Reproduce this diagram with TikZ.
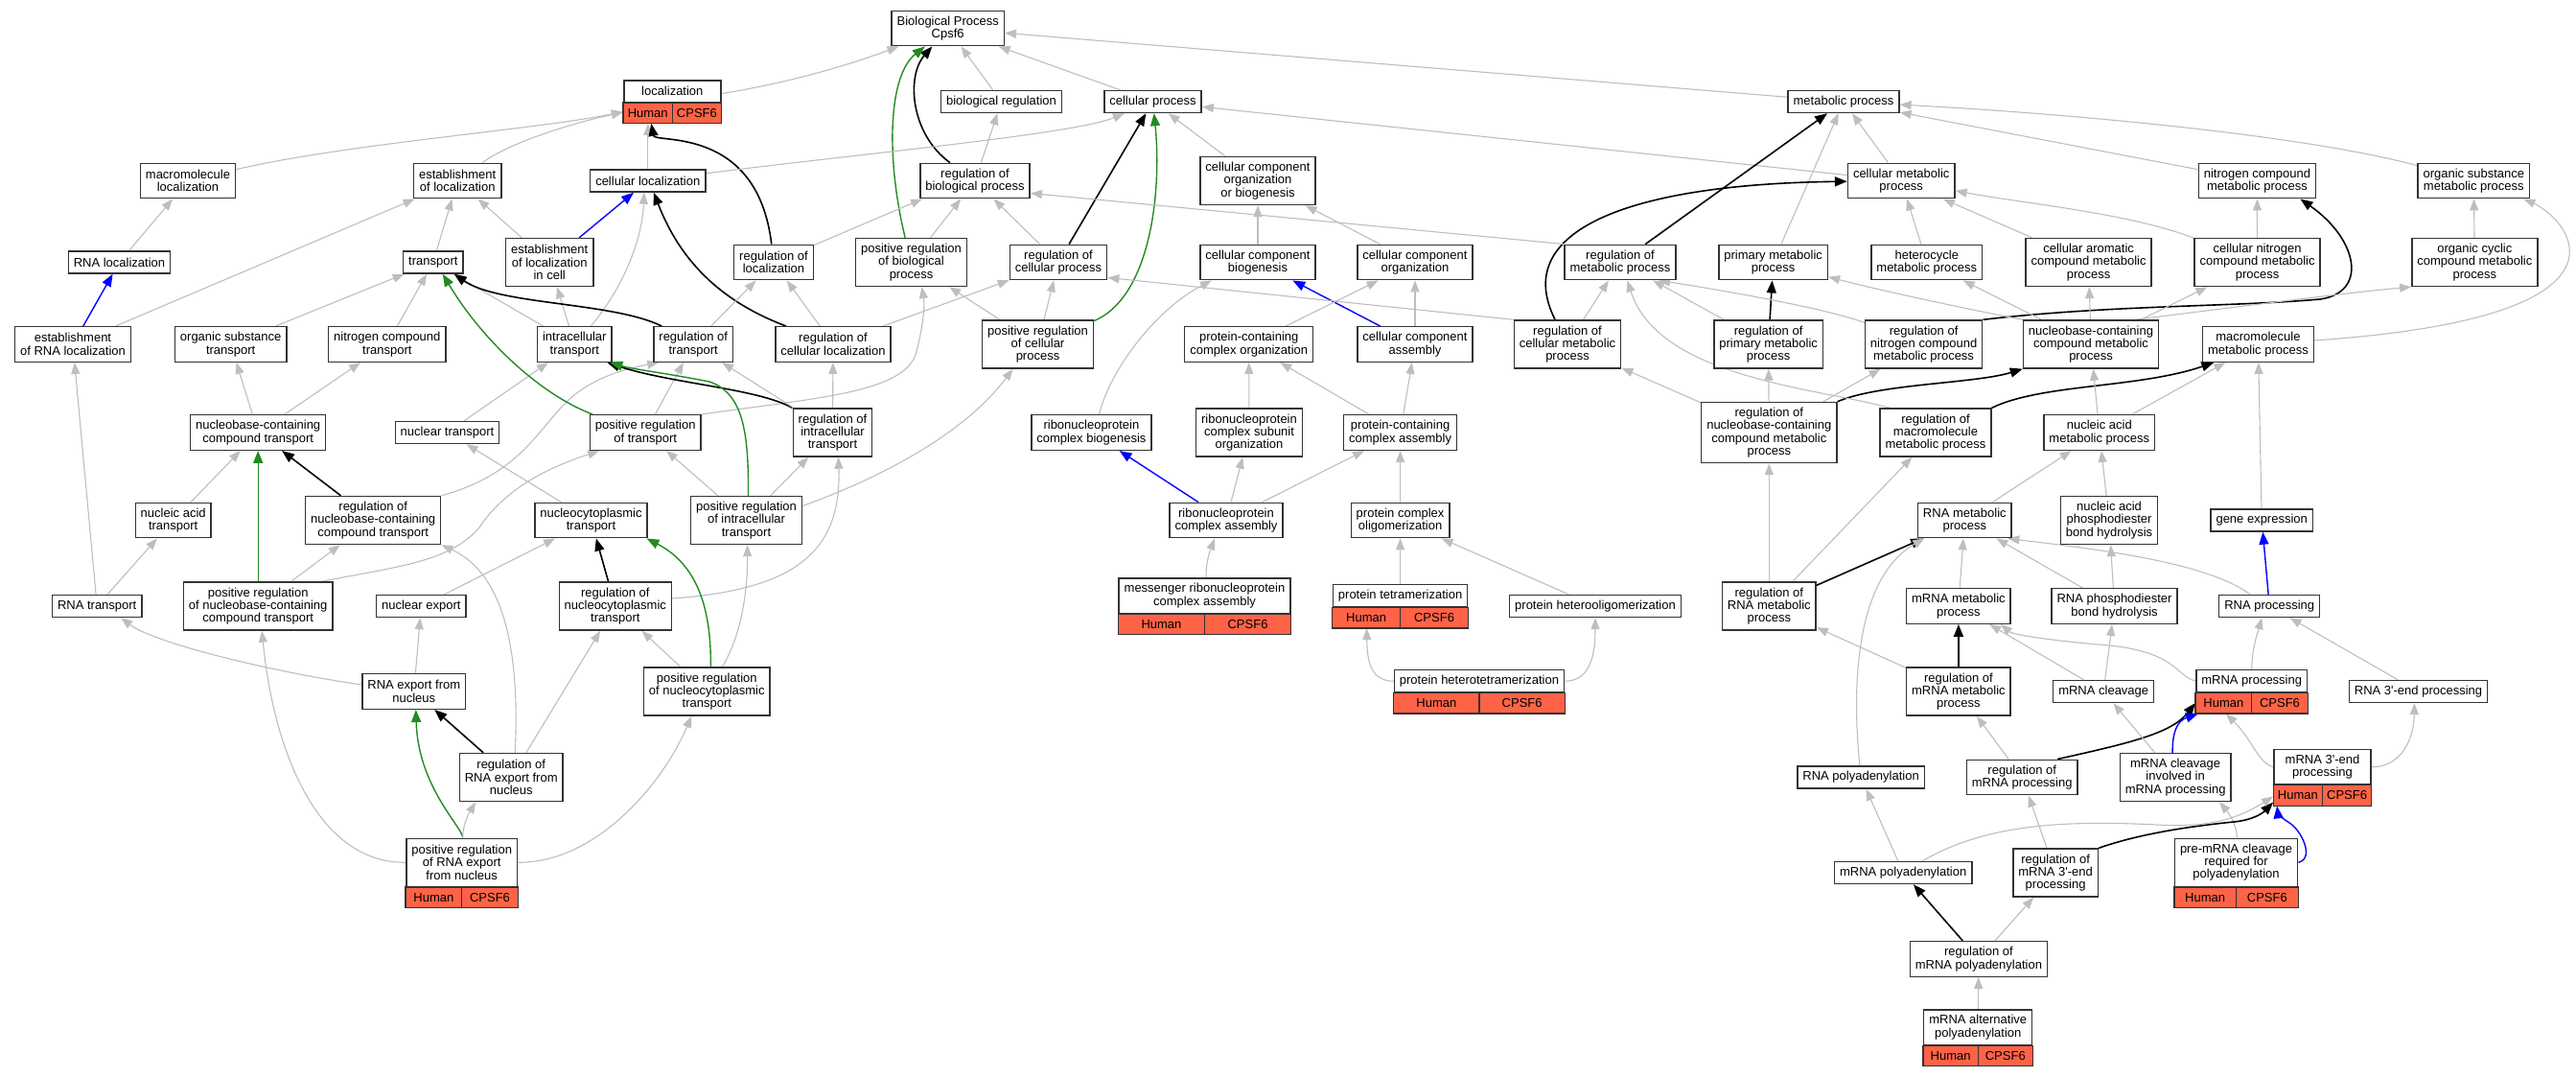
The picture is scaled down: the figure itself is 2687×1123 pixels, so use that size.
\documentclass[tikz,border=0pt]{standalone}
\usepackage{fontspec}
\setmainfont{Liberation Sans}
\usetikzlibrary{arrows.meta,calc,fit}
\definecolor{edgegray}{RGB}{190,190,190}
\definecolor{fgreen}{RGB}{34,139,34}
\definecolor{tomato}{RGB}{255,99,71}
\definecolor{bord}{RGB}{51,51,51}
\newcommand{\gofont}{\fontsize{13}{13.3}\selectfont}
\pgfdeclarelayer{bglayer}
\pgfdeclarelayer{edges}
\pgfsetlayers{bglayer,edges,main}
\tikzset{
  gobox/.style={draw=bord, line width=1.4pt, fill=white, align=center, inner xsep=5.5pt, inner ysep=0pt, font=\gofont},
  l1/.style={gobox, minimum height=23pt},
  l2/.style={gobox, minimum height=36.5pt},
  l3/.style={gobox, minimum height=50pt},
  l4/.style={gobox, minimum height=63pt},
  rowtext/.style={font=\gofont, inner sep=0pt},
  isaedge/.style={draw=edgegray, line width=1.1pt, -{Triangle[length=12pt,width=9pt]}},
  regedge/.style={draw=black, line width=1.6pt, -{Triangle[length=13pt,width=10pt]}},
  posedge/.style={draw=fgreen, line width=1.4pt, -{Triangle[length=13pt,width=10pt]}},
  partedge/.style={draw=blue, line width=1.4pt, -{Triangle[length=13pt,width=10pt]}}
}
\newcommand{\gene}[5]{%
  \node[gobox, minimum width=101pt, minimum height=#4pt] (#1-l) at (#2,#3-10.75) {#5};
  \coordinate (#1-c) at ($(#1-l.south east)+(0,21.5)$);
  \filldraw[draw=bord, line width=1.4pt, fill=tomato] (#1-l.south west) rectangle (#1-c);
  \draw[draw=bord, line width=1.4pt] (#1-l.south) -- ($(#1-l.south)+(0,21.5)$);
  \node[rowtext] at ($(#1-l.south west)!0.25!(#1-l.south east)+(0,10.75)$) {Human};
  \node[rowtext] at ($(#1-l.south west)!0.75!(#1-l.south east)+(0,10.75)$) {CPSF6};
  \node[fit=(#1-l)(#1-c), inner sep=0pt] (#1) {};
}
\begin{document}
\begin{tikzpicture}[x=1pt,y=-1pt]
\begin{pgfonlayer}{bglayer}
\fill[white] (0,0) rectangle (2687,1123);
\end{pgfonlayer}
\useasboundingbox (0,0) rectangle (2687,1123);
% rank 0/1
\node[l2] (bp) at (988.7,29.5) {Biological Process\\Cpsf6};
\gene{loc}{701.3}{106}{22.5}{localization}
\node[l1] (bioreg) at (1044.5,106) {biological regulation};
\node[l1] (cellproc) at (1202.5,106) {cellular process};
\node[l1] (metab) at (1923,106) {metabolic process};
% rank 2
\node[l2] (macroloc) at (196,188.5) {macromolecule\\localization};
\node[l2] (estloc) at (477.2,188.5) {establishment\\of localization};
\node[l1] (cellloc) at (675.8,188.5) {cellular localization};
\node[l2] (regbio) at (1017,188.5) {regulation of\\biological process};
\node[l3] (ccob) at (1312,188.5) {cellular component\\organization\\or biogenesis};
\node[l2] (cellmet) at (1983.2,188.5) {cellular metabolic\\process};
\node[l2] (nitmet) at (2354.4,188.5) {nitrogen compound\\metabolic process};
\node[l2] (orgsubmet) at (2580.3,188.5) {organic substance\\metabolic process};
% rank 3
\node[l1] (rnaloc) at (124.5,273.5) {RNA localization};
\node[l1] (transport) at (451.8,273.5) {transport};
\node[l3] (estlocell) at (573.2,273.5) {establishment\\of localization\\in cell};
\node[l2] (regloc) at (807,273.5) {regulation of\\localization};
\node[l3] (posregbio) at (950.5,273.5) {positive regulation\\of biological\\process};
\node[l2] (regcell) at (1104,273.5) {regulation of\\cellular process};
\node[l2] (ccbio) at (1312,273.5) {cellular component\\biogenesis};
\node[l2] (ccorg) at (1476,273.5) {cellular component\\organization};
\node[l2] (regmet) at (1690,273.5) {regulation of\\metabolic process};
\node[l2] (primet) at (1849.6,273.5) {primary metabolic\\process};
\node[l2] (hetmet) at (2009.8,273.5) {heterocycle\\metabolic process};
\node[l3] (caromet) at (2178.6,273.5) {cellular aromatic\\compound metabolic\\process};
\node[l3] (cnitmet) at (2354.6,273.5) {cellular nitrogen\\compound metabolic\\process};
\node[l3] (orgcycmet) at (2581.3,273.5) {organic cyclic\\compound metabolic\\process};
% rank 4
\node[l2] (estrnaloc) at (76,359) {establishment\\of RNA localization};
\node[l2] (orgsubtr) at (240.7,359) {organic substance\\transport};
\node[l2] (nittr) at (403.8,359) {nitrogen compound\\transport};
\node[l2] (intratr) at (599.3,359) {intracellular\\transport};
\node[l2] (regtr) at (723.2,359) {regulation of\\transport};
\node[l2] (regcellloc) at (869,359) {regulation of\\cellular localization};
\node[l3] (posregcell) at (1082.5,359) {positive regulation\\of cellular\\process};
\node[l2] (pccorg) at (1302.7,359) {protein-containing\\complex organization};
\node[l2] (ccasm) at (1476,359) {cellular component\\assembly};
\node[l3] (regcellmet) at (1635,359) {regulation of\\cellular metabolic\\process};
\node[l3] (regprimet) at (1844.6,359) {regulation of\\primary metabolic\\process};
\node[l3] (regnitmet) at (2006.6,359) {regulation of\\nitrogen compound\\metabolic process};
\node[l3] (nbcmet) at (2181,359) {nucleobase-containing\\compound metabolic\\process};
\node[l2] (macromet) at (2355.4,359) {macromolecule\\metabolic process};
% rank 5
\node[l2] (nbctr) at (269.2,451) {nucleobase-containing\\compound transport};
\node[l1] (nuctr) at (466.5,451) {nuclear transport};
\node[l2] (posregtr) at (673.2,451) {positive regulation\\of transport};
\node[l3] (regintratr) at (868.5,451) {regulation of\\intracellular\\transport};
\node[l2] (rnpbio) at (1138.4,451) {ribonucleoprotein\\complex biogenesis};
\node[l3] (rnpsub) at (1303,451) {ribonucleoprotein\\complex subunit\\organization};
\node[l2] (pcasm) at (1460.6,451) {protein-containing\\complex assembly};
\node[l4] (regnbcmet) at (1845.3,451) {regulation of\\nucleobase-containing\\compound metabolic\\process};
\node[l3] (regmacromet) at (2019,451) {regulation of\\macromolecule\\metabolic process};
\node[l2] (nucacmet) at (2189.8,451) {nucleic acid\\metabolic process};
% rank 6
\node[l2] (nucactr) at (180.7,542.5) {nucleic acid\\transport};
\node[l3] (regnbctr) at (389.2,542.5) {regulation of\\nucleobase-containing\\compound transport};
\node[l2] (nctr) at (616.5,542.5) {nucleocytoplasmic\\transport};
\node[l3] (posregintratr) at (778.5,542.5) {positive regulation\\of intracellular\\transport};
\node[l2] (rnpasm) at (1279,542.5) {ribonucleoprotein\\complex assembly};
\node[l2] (pcolig) at (1460.6,542.5) {protein complex\\oligomerization};
\node[l2] (rnamet) at (2049.3,542.5) {RNA metabolic\\process};
\node[l3] (napdh) at (2200,542.5) {nucleic acid\\phosphodiester\\bond hydrolysis};
\node[l1] (geneexp) at (2359.2,542.5) {gene expression};
% rank 7
\node[l1] (rnatr) at (101.2,632) {RNA transport};
\node[l3] (posregnbctr) at (269.2,632) {positive regulation\\of nucleobase-containing\\compound transport};
\node[l1] (nucexp) at (439.3,632) {nuclear export};
\node[l3] (regnctr) at (641.8,632) {regulation of\\nucleocytoplasmic\\transport};
\gene{mrnpasm}{1256.5}{632}{36.5}{messenger ribonucleoprotein\\complex assembly}
\gene{ptetra}{1460.6}{632}{23}{protein tetramerization}
\node[l1] (phetolig) at (1664,632) {protein heterooligomerization};
\node[l3] (regrnamet) at (1845.3,632) {regulation of\\RNA metabolic\\process};
\node[l2] (mrnamet) at (2042.9,632) {mRNA metabolic\\process};
\node[l2] (rnapdh) at (2205.5,632) {RNA phosphodiester\\bond hydrolysis};
\node[l1] (rnaproc) at (2367.2,632) {RNA processing};
% rank 8
\node[l2] (rnaexp) at (431.8,721) {RNA export from\\nucleus};
\node[l3] (posregnctr) at (737.3,721) {positive regulation\\of nucleocytoplasmic\\transport};
\gene{phettetra}{1543}{721}{23}{protein heterotetramerization}
\node[l3] (regmrnamet) at (2042.9,721) {regulation of\\mRNA metabolic\\process};
\node[l1] (mrnacleav) at (2194.2,721) {mRNA cleavage};
\gene{mrnaproc}{2348.7}{721}{23}{mRNA processing}
\node[l1] (rna3end) at (2522.5,721) {RNA 3\textquotesingle-end processing};
% rank 9
\node[l3] (regrnaexp) at (533.2,810.5) {regulation of\\RNA export from\\nucleus};
\node[l1] (rnapolya) at (1941.1,810.5) {RNA polyadenylation};
\node[l2] (regmrnaproc) at (2109.2,810.5) {regulation of\\mRNA processing};
\node[l3] (mrnacleavinv) at (2269.1,810.5) {mRNA cleavage\\involved in\\mRNA processing};
\gene{mrna3end}{2422.5}{810.5}{36.5}{mRNA 3\textquotesingle-end\\processing}
% rank 10
\gene{posregrnaexp}{481.7}{910}{50}{positive regulation\\of RNA export\\from nucleus}
\node[l1] (mrnapolya) at (1985.2,910) {mRNA polyadenylation};
\node[l3] (regmrna3end) at (2144.1,910) {regulation of\\mRNA 3\textquotesingle-end\\processing};
\gene{premrna}{2332.5}{910}{50}{pre-mRNA cleavage\\required for\\polyadenylation}
% rank 11/12
\node[l2] (regmrnapolya) at (2063.9,1000) {regulation of\\mRNA polyadenylation};
\gene{mrnaaltpolya}{2063.2}{1082}{36.5}{mRNA alternative\\polyadenylation}

\begin{pgfonlayer}{edges}
% top
\draw[isaedge] (loc) .. controls (830,85) and (890,66) .. (bp);
\draw[isaedge] (bioreg) -- (bp);
\draw[isaedge] (cellproc) -- (bp);
\draw[isaedge] (metab) -- (bp);
\draw[regedge] (regbio) .. controls (950,140) and (945,80) .. (bp);
\draw[posedge] (posregbio) .. controls (925,170) and (925,80) .. (bp);
% localization
\draw[isaedge] (macroloc) .. controls (360,150) and (560,135) .. (loc);
\draw[isaedge] (estloc) .. controls (530,150) and (590,130) .. (loc);
\draw[isaedge] (cellloc.north) -- (cellloc.north |- loc.south);
\draw[regedge] (regloc) .. controls (790,130) and (683,150) .. ([xshift=-22pt]loc.south);
% cellular process
\draw[isaedge] (cellloc) .. controls (900,160) and (1120,140) .. (cellproc);
\draw[regedge] (regcell) -- (cellproc);
\draw[posedge] (posregcell) .. controls (1200,310) and (1212,200) .. (cellproc);
\draw[isaedge] (ccob) -- (cellproc);
\draw[isaedge] (cellmet) -- (cellproc);
% metabolic
\draw[isaedge] (cellmet) -- (metab);
\draw[regedge] (regmet) -- (metab);
\draw[isaedge] (primet) -- (metab);
\draw[isaedge] (nitmet) -- (metab);
\draw[isaedge] (orgsubmet) .. controls (2400,140) and (2150,118) .. (metab);
\draw[isaedge] (hetmet) -- (cellmet);
\draw[isaedge] (caromet) -- (cellmet);
\draw[isaedge] (cnitmet) .. controls (2220,222) and (2110,212) .. (cellmet);
\draw[regedge] (regcellmet) .. controls (1575,240) and (1700,192) .. (cellmet);
\draw[isaedge] (cnitmet) -- (nitmet);
\draw[isaedge] (orgcycmet) -- (orgsubmet);
\draw[regedge] (regnitmet.north east) .. controls (2200,318) and (2330,320) .. (2420,312) .. controls (2470,305) and (2460,250) .. ([xshift=45pt]nitmet.south);
\draw[isaedge] (macromet) .. controls (2560,345) and (2660,320) .. (2678,275) .. controls (2690,240) and (2650,215) .. ([xshift=52pt]orgsubmet.south);
\draw[isaedge] ([xshift=46pt]nbcmet.north) .. controls (2350,318) and (2450,305) .. (orgcycmet.south west);
\draw[isaedge] (nbcmet) -- (caromet);
\draw[isaedge] (nbcmet) -- (cnitmet);
\draw[isaedge] (nbcmet) -- (hetmet);
\draw[isaedge] (nbcmet.north west) .. controls (2030,318) and (1950,300) .. (primet);
\draw[regedge] (regprimet) -- (primet);
\draw[isaedge] (regnbcmet) -- (regprimet);
\draw[isaedge] (regnbcmet) -- (regcellmet);
\draw[isaedge] (regnbcmet) -- (regnitmet);
\draw[isaedge] (regcellmet) -- (regmet);
\draw[isaedge] (regprimet) -- (regmet);
\draw[isaedge] (regnitmet) .. controls (1900,320) and (1780,300) .. ([xshift=40pt]regmet.south);
\draw[regedge] (regnbcmet.north east) .. controls (1960,400) and (2060,400) .. (nbcmet.south west);
\draw[regedge] (regmacromet.north east) .. controls (2130,400) and (2230,405) .. ([xshift=-46pt]macromet.south);
\draw[isaedge] ([xshift=-48pt]regmacromet.north) .. controls (1900,405) and (1730,395) .. ([xshift=7.5pt]regmet.south);
\draw[isaedge] (regrnamet) -- (regnbcmet);
\draw[isaedge] (regrnamet) -- (regmacromet);
\draw[regedge] (regrnamet) -- (rnamet);
\draw[isaedge] (rnamet) -- (nucacmet);
\draw[isaedge] (napdh) -- (nucacmet);
\draw[isaedge] (nucacmet) -- (nbcmet);
\draw[isaedge] (nucacmet) -- (macromet);
\draw[isaedge] (geneexp) -- (macromet);
\draw[partedge] (rnaproc) -- (geneexp);
\draw[isaedge] ([xshift=-20pt]rnaproc.north) .. controls (2300,585) and (2180,572) .. ([xshift=45pt]rnamet.south);
\draw[isaedge] (rnapdh) -- (rnamet);
\draw[isaedge] (mrnamet) -- (rnamet);
\draw[isaedge] (rnapdh) -- (napdh);
\draw[isaedge] (rnapolya) .. controls (1930,700) and (1940,600) .. ([xshift=-42pt]rnamet.south);
\draw[regedge] (regmrnamet) -- (mrnamet);
\draw[isaedge] (regmrnamet) -- (regrnamet);
\draw[isaedge] (mrnacleav) -- (mrnamet);
\draw[isaedge] ([yshift=11pt]mrnaproc.west) .. controls (2270,705) and (2270,680) .. (2200,673) .. controls (2140,668) and (2100,662) .. ([xshift=44pt]mrnamet.south);
\draw[isaedge] (mrnacleav) -- (rnapdh);
\draw[isaedge] (mrnaproc.north) .. controls (2349,675) and (2355,660) .. ([xshift=-8pt]rnaproc.south);
\draw[isaedge] (rna3end) -- (rnaproc);
\draw[isaedge] (regmrnaproc) -- (regmrnamet);
\draw[regedge] ([xshift=37pt]regmrnaproc.north) .. controls (2220,775) and (2265,765) .. ([yshift=-12pt]mrnaproc.west);
\draw[partedge] ([xshift=-3pt]mrnacleavinv.north) .. controls (2266,765) and (2270,752) .. ([xshift=3pt]mrnaproc.south west);
\draw[isaedge] (mrnacleavinv) -- (mrnacleav);
\draw[isaedge] ([yshift=10.75pt]mrna3end.west) .. controls (2355,795) and (2350,772) .. ([xshift=-27pt]mrnaproc.south);
\draw[isaedge] ([yshift=10.75pt]mrna3end.east) .. controls (2505,800) and (2518,770) .. ([xshift=-4pt]rna3end.south);
\draw[partedge] ([yshift=10.75pt]premrna.east) .. controls (2415,895) and (2400,865) .. (2388,858) .. controls (2380,853) and (2376,848) .. ([xshift=4pt]mrna3end.south west);
\draw[isaedge] ([xshift=1pt]premrna.north) .. controls (2333,860) and (2325,848) .. ([xshift=46pt]mrnacleavinv.south);
\draw[regedge] (regmrna3end.north east) .. controls (2230,870) and (2280,862) .. (2330,857) .. controls (2350,855) and (2360,848) .. ([yshift=-26pt]mrna3end.west);
\draw[isaedge] ([xshift=20pt]mrnapolya.north) .. controls (2070,860) and (2150,855) .. (2250,860) .. controls (2310,864) and (2340,850) .. ([yshift=-20pt]mrna3end.west);
\draw[isaedge] (regmrna3end) -- (regmrnaproc);
\draw[isaedge] (mrnapolya) -- (rnapolya);
\draw[regedge] (regmrnapolya) -- (mrnapolya);
\draw[isaedge] (regmrnapolya) -- (regmrna3end);
\draw[isaedge] (mrnaaltpolya) -- (regmrnapolya);
% protein complex region
\draw[isaedge] ([xshift=8pt]rnpbio.north) .. controls (1160,380) and (1210,320) .. ([xshift=-48pt]ccbio.south);
\draw[partedge] (rnpasm) -- (rnpbio);
\draw[isaedge] (rnpasm) -- (rnpsub);
\draw[isaedge] (rnpasm) -- (pcasm);
\draw[isaedge] (rnpsub) -- (pccorg);
\draw[isaedge] (pcasm) -- (pccorg);
\draw[isaedge] (pcasm) -- (ccasm);
\draw[isaedge] (ccasm) -- (ccorg);
\draw[partedge] (ccasm) -- (ccbio);
\draw[isaedge] (pccorg) -- (ccorg);
\draw[isaedge] (ccorg) -- (ccob);
\draw[isaedge] (ccbio) -- (ccob);
\draw[isaedge] (pcolig) -- (pcasm);
\draw[isaedge] ([xshift=1.5pt]mrnpasm.north) .. controls (1258,585) and (1262,575) .. ([xshift=-12pt]rnpasm.south);
\draw[isaedge] (ptetra) -- (pcolig);
\draw[isaedge] (phetolig) -- (pcolig);
\draw[isaedge] ([yshift=10.75pt]phettetra.west) .. controls (1430,710) and (1426,690) .. ([xshift=-35pt]ptetra.south);
\draw[isaedge] ([yshift=10.75pt]phettetra.east) .. controls (1660,710) and (1664,680) .. (phetolig.south);
% regulation of biological / cellular process
\draw[isaedge] (posregbio) -- (regbio);
\draw[isaedge] (regbio) -- (bioreg);
\draw[isaedge] (regcell) -- (regbio);
\draw[isaedge] (posregcell) -- (regcell);
\draw[isaedge] (posregcell) -- (posregbio);
\draw[isaedge] (regmet.north west) -- ([yshift=-13pt]regbio.east);
\draw[isaedge] (regcellmet.north west) -- ([yshift=-16pt]regcell.east);
\draw[isaedge] (regloc) -- ([xshift=-55pt]regbio.south);
\draw[isaedge] (regcellloc) -- (regcell);
\draw[isaedge] (posregtr.north east) .. controls (850,415) and (940,410) .. (955,370) .. controls (962,345) and (965,320) .. ([xshift=11pt]posregbio.south);
\draw[isaedge] ([yshift=15pt]posregintratr.east) .. controls (900,505) and (1000,460) .. ([xshift=-26pt]posregcell.south);
% localization / transport region
\draw[isaedge] (rnaloc) -- (macroloc);
\draw[partedge] (estrnaloc) -- (rnaloc);
\draw[isaedge] (estrnaloc) -- (estloc);
\draw[isaedge] (orgsubtr) -- (transport);
\draw[isaedge] (nittr) -- (transport);
\draw[isaedge] (transport) -- (estloc);
\draw[isaedge] (nbctr) -- (orgsubtr);
\draw[isaedge] (nbctr) -- (nittr);
\draw[isaedge] (rnatr) -- (estrnaloc);
\draw[isaedge] (nucactr) -- (nbctr);
\draw[posedge] (posregnbctr) -- (nbctr);
\draw[regedge] (regnbctr) -- (nbctr);
\draw[isaedge] (rnatr) -- (nucactr);
\draw[isaedge] (posregnbctr) -- (regnbctr);
\draw[isaedge] ([xshift=66pt]posregnbctr.north) .. controls (420,590) and (470,585) .. (500,550) .. controls (530,505) and (580,485) .. ([xshift=-48pt]posregtr.south);
\draw[isaedge] (regnbctr.north east) .. controls (540,495) and (560,450) .. (590,420) .. controls (615,395) and (650,385) .. ([xshift=-36pt]regtr.south);
\draw[isaedge] (nuctr) -- (intratr);
\draw[isaedge] (nctr) -- (nuctr);
\draw[isaedge] (intratr) -- (transport);
\draw[isaedge] (intratr) -- (estlocell);
\draw[isaedge] ([xshift=17pt]intratr.north) .. controls (650,300) and (670,250) .. ([xshift=-4pt]cellloc.south);
\draw[partedge] (estlocell) -- (cellloc);
\draw[isaedge] (estlocell) -- (estloc);
\draw[regedge] ([xshift=-49pt]regcellloc.north) .. controls (740,310) and (705,260) .. ([xshift=6pt]cellloc.south);
\draw[regedge] ([xshift=-33pt]regtr.north) .. controls (640,315) and (520,318) .. ([xshift=22pt]transport.south);
\draw[isaedge] (regtr) -- (regloc);
\draw[isaedge] (regcellloc) -- (regloc);
\draw[posedge] ([xshift=-55pt]posregtr.north) .. controls (560,410) and (500,350) .. ([xshift=10pt]transport.south);
\draw[isaedge] (posregtr) -- (regtr);
\draw[regedge] (regintratr.north west) .. controls (790,405) and (700,400) .. ([xshift=34pt]intratr.south);
\draw[isaedge] (regintratr) -- (regtr);
\draw[isaedge] (regintratr) -- (regcellloc);
\draw[posedge] ([xshift=2pt]posregintratr.north) .. controls (781,450) and (775,410) .. (740,398) .. controls (700,390) and (660,385) .. ([xshift=37pt]intratr.south);
\draw[isaedge] (posregintratr) -- (posregtr);
\draw[isaedge] (posregintratr) -- (regintratr);
\draw[isaedge] ([yshift=8pt]regnctr.east) .. controls (830,615) and (878,575) .. ([xshift=6pt]regintratr.south);
\draw[isaedge] (posregnctr) -- (regnctr);
\draw[posedge] ([xshift=4pt]posregnctr.north) .. controls (742,640) and (730,590) .. ([xshift=58pt]nctr.south);
\draw[isaedge] ([xshift=16pt]posregnctr.north) .. controls (775,660) and (780,610) .. ([xshift=1pt]posregintratr.south);
\draw[regedge] (regnctr) -- (nctr);
\draw[regedge] (regrnaexp) -- (rnaexp);
\draw[isaedge] (regrnaexp) -- (regnctr);
\draw[isaedge] ([xshift=4pt]regrnaexp.north) .. controls (542,690) and (530,600) .. (regnbctr.south east);
\draw[posedge] ([xshift=1pt]posregrnaexp.north) .. controls (482,862) and (436,820) .. ([xshift=2pt]rnaexp.south);
\draw[isaedge] ([xshift=1pt]posregrnaexp.north) .. controls (483,860) and (488,850) .. ([xshift=-37pt]regrnaexp.south);
\draw[isaedge] ([yshift=10.75pt]posregrnaexp.east) .. controls (620,900) and (690,820) .. ([xshift=-16pt]posregnctr.south);
\draw[isaedge] ([yshift=10.75pt]posregrnaexp.west) .. controls (330,900) and (285,780) .. ([xshift=4pt]posregnbctr.south);
\draw[isaedge] ([yshift=7pt]rnaexp.west) .. controls (280,700) and (160,670) .. ([xshift=25pt]rnatr.south);
\draw[isaedge] (rnaexp) -- (nucexp);
\draw[isaedge] (nucexp) -- (nctr);
\end{pgfonlayer}
\end{tikzpicture}
\end{document}
